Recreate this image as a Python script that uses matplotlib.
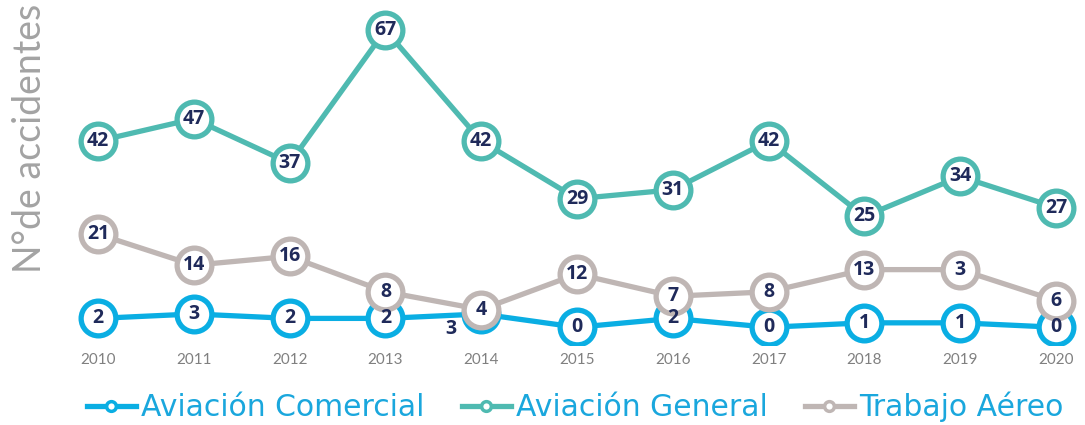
import matplotlib
matplotlib.use('Agg')
import matplotlib.pyplot as plt
from matplotlib.lines import Line2D

# Data
years = [2010, 2011, 2012, 2013, 2014, 2015, 2016, 2017, 2018, 2019, 2020]
comercial = [2, 3, 2, 2, 3, 0, 2, 0, 1, 1, 0]
general = [42, 47, 37, 67, 42, 29, 31, 42, 25, 34, 27]
trabajo = [21, 14, 16, 8, 4, 12, 7, 8, 13, 13, 6]
# labels as printed on the chart (2019 Trabajo Aéreo is drawn at 13 but labelled 3)
trabajo_labels = ['21', '14', '16', '8', '4', '12', '7', '8', '13', '3', '6']

series_names = ['Aviación Comercial', 'Aviación General', 'Trabajo Aéreo']
colors = ['#0aaee3', '#4fbab1', '#bfb6b4']
label_color = '#1f2a5a'

fig = plt.figure(figsize=(10.85, 4.25), dpi=100)
ax = fig.add_axes([0.0, 1 - 345 / 425, 1.0, 345 / 425])

px_per_year = 95.8
x0 = 2010 - 98 / px_per_year
x1 = 2010 + (1085 - 98) / px_per_year
ax.set_xlim(x0, x1)
ax.set_ylim(-4.0, 73.8)

marker_kw = dict(marker='o', markersize=25, markerfacecolor='white', markeredgewidth=3.8, linewidth=3.8)

series = [(comercial, [str(v) for v in comercial]),
          (general, [str(v) for v in general]),
          (trabajo, trabajo_labels)]

for i, ((vals, labels), col) in enumerate(zip(series, colors)):
    ax.plot(years, vals, color=col, markeredgecolor=col, zorder=2 + i, **marker_kw)

for i, (vals, labels) in enumerate(series):
    for yr, v, lab in zip(years, vals, labels):
        if i == 0 and yr == 2014:
            # this label sits beside the point; the marker is hidden under Trabajo Aéreo
            ax.annotate(lab, (yr, v), xytext=(-22, -11), textcoords='offset points',
                        ha='center', va='center', fontsize=14, fontweight='bold',
                        color=label_color, family='Open Sans', zorder=10)
        else:
            ax.text(yr, v, lab, ha='center', va='center', fontsize=14, fontweight='bold',
                    color=label_color, family='Open Sans', zorder=10)

for s in ax.spines.values():
    s.set_visible(False)
ax.set_yticks([])
ax.set_xticks(years)
ax.set_xticklabels([str(y) for y in years], fontsize=11, color='#808080', family='Lato')
ax.tick_params(axis='x', length=0, pad=6)
ax.patch.set_alpha(0)

fig.text(30 / 1085, 1 - 138 / 425, 'N°de accidentes', rotation=90, ha='center', va='center',
         fontsize=27, color='#a3a3a3', family='Lato')

handles = [Line2D([0], [0], color=c, linewidth=3.8, marker='o', markersize=7,
                  markerfacecolor='white', markeredgecolor=c, markeredgewidth=2.5)
           for c in colors]
leg = fig.legend(handles, series_names, loc='center', bbox_to_anchor=(575 / 1085, 1 - 407 / 425),
                 ncol=3, frameon=False, fontsize=21.5, handlelength=1.65, handletextpad=0.16,
                 columnspacing=1.25, borderaxespad=0)
for t in leg.get_texts():
    t.set_color('#1aa7dd')

fig.savefig('out.png', dpi=100)
